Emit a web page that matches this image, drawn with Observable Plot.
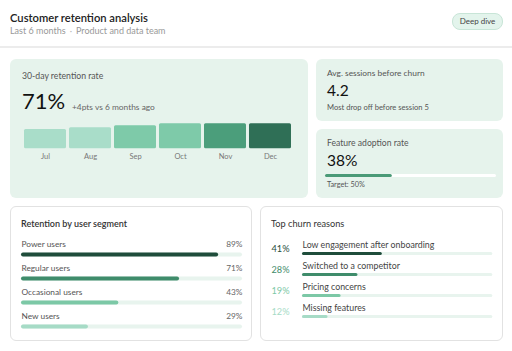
<!DOCTYPE html>
<html><head><meta charset="utf-8">
<script src="https://cdn.jsdelivr.net/npm/d3@7"></script>
<script src="https://cdn.jsdelivr.net/npm/@observablehq/plot@0.6"></script>
<style>
body{margin:0;background:#fff;}
#root{position:relative;width:512px;height:351px;overflow:hidden;font-family:Lato,sans-serif;background:#fff}
.t{position:absolute;white-space:nowrap;line-height:1;}
.box{position:absolute;border-radius:6px;box-sizing:border-box;}
.g{background:#e6f3ec;}
.w{background:#fff;border:1px solid #e2e2e2;}
.holder{position:absolute;}
.holder svg{display:block;overflow:visible;}
</style></head><body><div id="root"></div>
<script>
// ---- data ----
const months = ["Jul","Aug","Sep","Oct","Nov","Dec"];
const monthlyRetention = [67,68,69,70,70,70];
const retentionNow = 71;
const retentionChange = 4;
const avgSessions = 4.2;
const dropOffSession = 5;
const adoptionRate = 38;
const adoptionTarget = 50;
const segments = ["Power users","Regular users","Occasional users","New users"];
const segmentRetention = [89,71,43,29];
const churnReasons = ["Low engagement after onboarding","Switched to a competitor","Pricing concerns","Missing features"];
const churnShares = [41,28,19,12];

// ---- styles ----
const monthColors = ["#a9ddc9","#a9ddc9","#7ecaa9","#7ecaa9","#4b9e7b","#2f6f56"];
const rankColors = ["#1f4d3b","#3f8c6b","#7cc8a6","#a6dbc6"];
const trackColor = "#e8f4ee";

const root = document.getElementById("root");
function el(cls, css, html){const d=document.createElement("div");d.className=cls;Object.assign(d.style,css);if(html!=null)d.innerHTML=html;root.appendChild(d);return d;}
function T(text,x,base,size,color,weight){return el("t",{left:x+"px",top:(base-0.887*size)+"px",fontSize:size+"px",color:color,fontWeight:weight||400},text);}
function holder(x,y,node){const h=el("holder",{left:x+"px",top:y+"px"});h.appendChild(node);return h;}
const pstyle = {background:"transparent",fontFamily:"Lato, sans-serif",overflow:"visible"};

// header
T("Customer retention analysis",10,22,11.2,"#222",600);
T('Last 6 months<span style="margin:0 4px;color:#bbb">·</span>Product and data team',10,34,9,"#999");
el("box",{left:"452px",top:"13px",width:"51px",height:"17px",background:"#e3f4ec",border:"1px solid #c8e5d7",borderRadius:"8px",fontSize:"8px",color:"#444",lineHeight:"15px",textAlign:"center"},"Deep dive");
el("box",{left:"0px",top:"46px",width:"512px",height:"1.5px",background:"#ececec",borderRadius:"0"});

// panels
el("box g",{left:"10px",top:"59px",width:"298px",height:"139px"});
el("box g",{left:"316px",top:"59px",width:"187px",height:"62px"});
el("box g",{left:"316px",top:"129px",width:"187px",height:"69px"});
el("box w",{left:"10px",top:"206px",width:"242px",height:"135px"});
el("box w",{left:"260px",top:"206px",width:"243px",height:"135px"});

// panel 1
T("30-day retention rate",22,80,8.7,"#555");
T(retentionNow+"%",22,110,22,"#111");
T("+"+retentionChange+"pts vs 6 months ago",72,110,8.4,"#666");
const monthData = months.map((m,i)=>({month:m,value:monthlyRetention[i]}));
holder(19.5,118,Plot.plot({
  width:276,height:44.3,marginTop:5.3,marginBottom:14,marginLeft:0,marginRight:0,
  style:{...pstyle,fontSize:"7.5px",color:"#777"},
  x:{domain:months,padding:0.0615,tickSize:0,tickPadding:4.4,label:null},
  y:{domain:[57,70],clamp:true,axis:null},
  color:{domain:months,range:monthColors},
  marks:[Plot.barY(monthData,{x:"month",y:"value",fill:"month",rx:1.5})]
}));

// panel 2
T("Avg. sessions before churn",327,76.8,8.4,"#555");
T(String(avgSessions),327,96.7,15.5,"#111");
T("Most drop off before session "+dropOffSession,327,110.5,7.6,"#555");

// panel 3
T("Feature adoption rate",327,147,8.6,"#555");
T(adoptionRate+"%",327,166.7,15.5,"#111");
const adoptionData=[{label:"adoption",value:adoptionRate}];
holder(324.5,172.3,Plot.plot({
  width:171,height:6,marginTop:0,marginBottom:0,marginLeft:1.5,marginRight:1.5,
  style:pstyle,
  x:{domain:[0,100],axis:null},
  y:{type:"point",domain:["adoption"],axis:null},
  marks:[
    Plot.ruleY(adoptionData,{y:"label",x1:0,x2:100,stroke:"#ffffff",strokeWidth:3,strokeLinecap:"round"}),
    Plot.ruleY(adoptionData,{y:"label",x1:0,x2:"value",stroke:"#4a9a77",strokeWidth:3,strokeLinecap:"round"})
  ]
}));
T("Target: "+adoptionTarget+"%",327,187.5,7.3,"#555");

// panel 4
T("Retention by user segment",21,227,9,"#333",600);
const segData = segments.map((s,i)=>({segment:s,value:segmentRetention[i]}));
holder(21,236,Plot.plot({
  width:221,height:96,marginTop:17.3,marginBottom:4.7,marginLeft:2,marginRight:2,
  style:pstyle,
  x:{domain:[0,100],axis:null},
  y:{type:"point",domain:segments,padding:0,axis:null},
  color:{domain:segments,range:rankColors},
  marks:[
    Plot.ruleY(segData,{y:"segment",x1:0,x2:100,stroke:trackColor,strokeWidth:4,strokeLinecap:"round"}),
    Plot.ruleY(segData,{y:"segment",x1:0,x2:"value",stroke:"segment",strokeWidth:4,strokeLinecap:"round"}),
    Plot.text(segData,{y:"segment",text:"segment",frameAnchor:"left",textAnchor:"start",dx:-2,dy:-10,fill:"#555",fontSize:8.3}),
    Plot.text(segData,{y:"segment",text:d=>d.value+"%",frameAnchor:"right",textAnchor:"end",dx:2,dy:-10,fill:"#666",fontSize:8.3})
  ]
}));

// panel 5
T("Top churn reasons",271,227,9.2,"#333");
const churnData = churnReasons.map((r,i)=>({reason:r,share:churnShares[i]}));
holder(260,236,Plot.plot({
  width:243,height:90,marginTop:15.7,marginBottom:9.3,marginLeft:43.5,marginRight:12.2,
  style:pstyle,
  x:{domain:[0,100],axis:null},
  y:{type:"point",domain:churnReasons,padding:0,axis:null},
  color:{domain:churnReasons,range:rankColors},
  marks:[
    Plot.ruleY(churnData,{y:"reason",x1:0,x2:100,stroke:trackColor,strokeWidth:3,strokeLinecap:"round"}),
    Plot.ruleY(churnData,{y:"reason",x1:0,x2:"share",stroke:"reason",strokeWidth:3,strokeLinecap:"round"}),
    Plot.text(churnData,{y:"reason",text:"reason",frameAnchor:"left",textAnchor:"start",dx:-1.5,dy:-8.5,fill:"#444",fontSize:8.8}),
    Plot.text(churnData,{y:"reason",text:d=>d.share+"%",frameAnchor:"left",textAnchor:"start",dx:-32.5,dy:-4.8,fill:"reason",fontSize:9.2})
  ]
}));
</script></body></html>
